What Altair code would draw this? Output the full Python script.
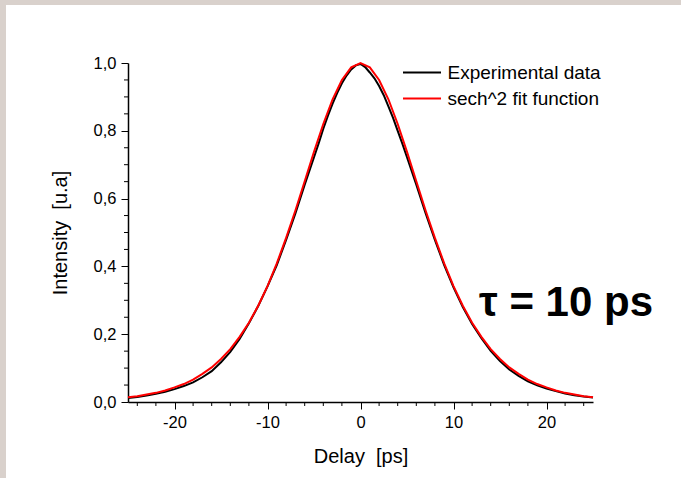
import altair as alt
import pandas as pd

# ---------------- data ----------------
fit_x = list(range(-25, 26))
fit_y = [0.014, 0.017, 0.022, 0.027, 0.034, 0.043, 0.053, 0.066, 0.083, 0.102,
         0.127, 0.156, 0.192, 0.234, 0.284, 0.342, 0.409, 0.484, 0.565, 0.651,
         0.738, 0.820, 0.893, 0.950, 0.987, 1.000, 0.987, 0.950, 0.893, 0.820,
         0.738, 0.651, 0.565, 0.484, 0.409, 0.342, 0.284, 0.234, 0.192, 0.156,
         0.127, 0.102, 0.083, 0.066, 0.053, 0.043, 0.034, 0.027, 0.022, 0.017,
         0.014]

exp_x = [-25, -24, -23, -22, -21, -20, -19, -18, -17, -16, -15, -14, -13, -12,
         -11, -10, -9, -8, -7, -6, -5, -4.5, -4, -3.5, -3, -2.5, -2, -1.5, -1,
         -0.5, 0, 0.5, 1, 1.5, 2, 2.5, 3, 3.5, 4, 4.5, 5, 6, 7, 8, 9, 10, 11,
         12, 13, 14, 15, 16, 17, 18, 19, 20, 21, 22, 23, 24, 25]
exp_y = [0.012, 0.015, 0.019, 0.024, 0.030, 0.038, 0.047, 0.058, 0.073, 0.091,
         0.117, 0.148, 0.186, 0.232, 0.283, 0.341, 0.404, 0.478, 0.556, 0.641,
         0.722, 0.763, 0.806, 0.845, 0.880, 0.912, 0.940, 0.963, 0.981, 0.993,
         0.997, 0.988, 0.972, 0.955, 0.932, 0.905, 0.872, 0.838, 0.800, 0.762,
         0.722, 0.641, 0.557, 0.478, 0.404, 0.338, 0.280, 0.230, 0.188, 0.151,
         0.121, 0.096, 0.077, 0.061, 0.049, 0.040, 0.032, 0.025, 0.020, 0.016,
         0.013]

series_names = ["Experimental data", "sech^2 fit function"]
series_colors = ["#000000", "#ff0000"]

x_major = [-20, -10, 0, 10, 20]
x_minor = [-24, -22, -18, -16, -14, -12, -8, -6, -4, -2,
           2, 4, 6, 8, 12, 14, 16, 18, 22, 24]
y_major = [0.0, 0.2, 0.4, 0.6, 0.8, 1.0]
y_minor = [0.05, 0.1, 0.15, 0.25, 0.3, 0.35, 0.45, 0.5, 0.55,
           0.65, 0.7, 0.75, 0.85, 0.9, 0.95]

annotation = "\u03c4 = 10 ps"

# ---------------- build ----------------
W, H = 465, 339
FONT = "Liberation Sans"

df = pd.concat([
    pd.DataFrame({"delay": exp_x, "intensity": exp_y, "series": series_names[0]}),
    pd.DataFrame({"delay": fit_x, "intensity": fit_y, "series": series_names[1]}),
])

xscale = alt.Scale(domain=[-25, 25], nice=False, zero=False)
yscale = alt.Scale(domain=[0, 1], nice=False)

lines = alt.Chart(df).mark_line(strokeWidth=2, clip=False).encode(
    x=alt.X("delay:Q", scale=xscale,
            axis=alt.Axis(title="Delay\u00a0 [ps]", values=x_major, grid=False,
                          labelExpr="'' + datum.value", tickSize=7,
                          labelPadding=5, titlePadding=16)),
    y=alt.Y("intensity:Q", scale=yscale,
            axis=alt.Axis(title="Intensity\u00a0 [u.a]", values=y_major, grid=False,
                          labelExpr="replace(format(datum.value, '.1f'), '.', ',')",
                          tickSize=7, labelPadding=5, titlePadding=23)),
    color=alt.Color("series:N",
                    scale=alt.Scale(domain=series_names, range=series_colors),
                    legend=alt.Legend(title=None, orient="none", legendX=283.5,
                                      legendY=-1, symbolType="M-2,0L2,0",
                                      symbolSize=361, symbolStrokeWidth=2,
                                      labelFontSize=19, labelFont=FONT,
                                      labelColor="#000", labelOffset=15,
                                      rowPadding=5, padding=0)),
    order=alt.Order("series:N"),
)

xminor = alt.Chart(pd.DataFrame({"v": x_minor})).mark_rule(
    color="#000", strokeWidth=1).encode(
    x=alt.X("v:Q", scale=xscale), y=alt.value(H), y2=alt.value(H + 4))

yminor = alt.Chart(pd.DataFrame({"v": y_minor})).mark_rule(
    color="#000", strokeWidth=1).encode(
    y=alt.Y("v:Q", scale=yscale), x=alt.value(-4), x2=alt.value(0))

label = alt.Chart(pd.DataFrame({"t": [annotation]})).mark_text(
    fontSize=42, fontWeight="bold", font=FONT, color="#000",
    align="center", baseline="middle").encode(
    text="t:N", x=alt.value(438), y=alt.value(240))

frame_top = alt.Chart(pd.DataFrame({"a": [0]})).mark_rect(
    color="#d9d1cc").encode(
    x=alt.value(-128), x2=alt.value(553), y=alt.value(-63), y2=alt.value(-58))
frame_left = alt.Chart(pd.DataFrame({"a": [0]})).mark_rect(
    color="#d9d1cc").encode(
    x=alt.value(-128), x2=alt.value(-122), y=alt.value(-63), y2=alt.value(415))

chart = alt.layer(frame_top, frame_left, xminor, yminor, lines, label).properties(
    width=W, height=H,
    autosize=alt.AutoSizeParams(type="none"),
    padding={"left": 128, "top": 63, "right": 88, "bottom": 76},
    background="#ffffff",
).configure_view(stroke=None).configure_axis(
    domainColor="#000", domainWidth=1.5, tickColor="#000", tickWidth=1,
    labelColor="#000", labelFont=FONT, labelFontSize=16.5,
    titleColor="#000", titleFont=FONT, titleFontSize=20, titleFontWeight="normal",
)

chart.save("out.html", embed_options={"renderer": "svg", "actions": False})
